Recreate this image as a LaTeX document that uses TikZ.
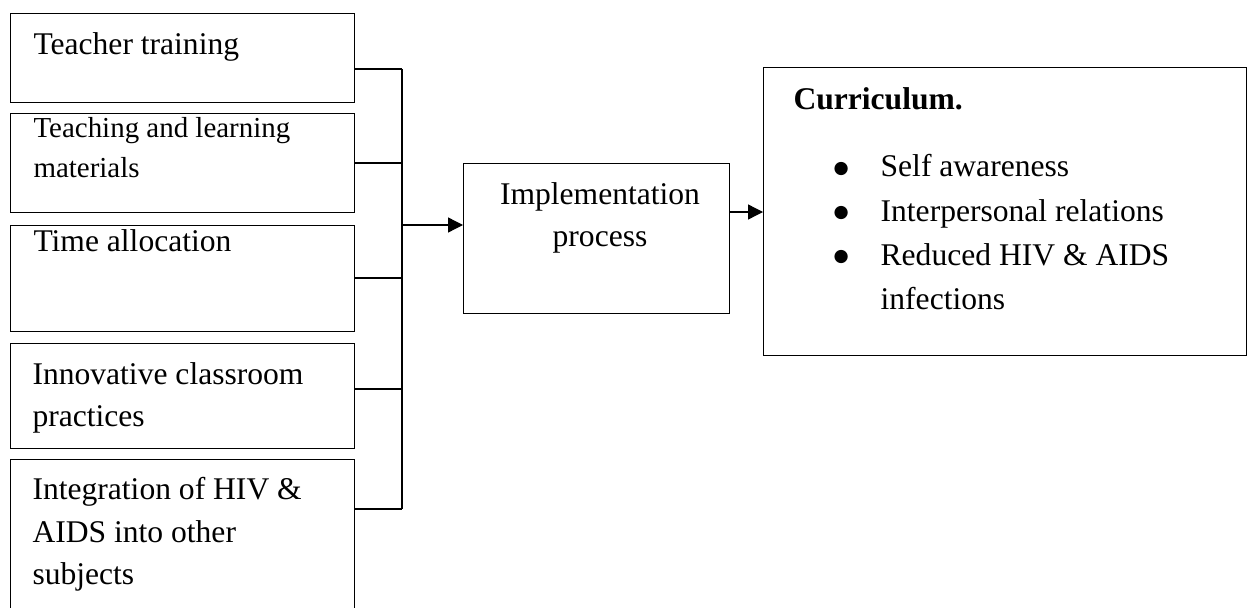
\documentclass[tikz,border=0pt]{standalone}
\usepackage{fontspec}
\setmainfont{Liberation Serif}
\newfontfamily\dotfont{DejaVu Sans}
\usetikzlibrary{arrows.meta}

\newcommand{\listdot}{\raisebox{1.5pt}{\dotfont\fontsize{6.6}{6.6}\selectfont ●}}

\tikzset{
  box/.style={draw, line width=0.5pt, inner sep=0pt, anchor=north west},
  txt/.style={inner sep=0pt, anchor=north west, align=left, font=\fontsize{12}{16.1}\selectfont},
  link/.style={line width=0.5pt},
  flow/.style={line width=0.5pt, -{Triangle[length=5.7pt,width=5.7pt]}},
}

\begin{document}
\begin{tikzpicture}[x=0.38pt,y=-0.38pt]
\path[use as bounding box, clip] (0,0) rectangle (1249,607);

% factors
\node[box, minimum width=130.7pt, minimum height=33.8pt] (train) at (10,13) {};
\node[txt] (train text) at (33,32) {Teacher training};

\node[box, minimum width=130.7pt, minimum height=37.6pt] (mater) at (10,113) {};
\node[txt, font=\fontsize{11}{15.1}\selectfont] (mater text) at (33,117) {Teaching and learning\\materials};

\node[box, minimum width=130.7pt, minimum height=40.3pt] (time) at (10,225) {};
\node[txt] (time text) at (33,229) {Time allocation};

\node[box, minimum width=130.7pt, minimum height=39.9pt] (innov) at (10,343) {};
\node[txt] (innov text) at (32,362) {Innovative classroom\\practices};

\node[box, minimum width=130.7pt, minimum height=76pt] (integ) at (10,459) {};
\node[txt] (integ text) at (32,477) {Integration of HIV \&\\AIDS into other\\subjects};

% process and outcome
\node[box, minimum width=101.1pt, minimum height=57pt] (impl) at (463,163) {};
\node[txt, anchor=north, align=center] (impl text) at (600,182) {Implementation\\process};

\node[box, minimum width=183.5pt, minimum height=109.4pt] (curr) at (763,67) {};
\node[txt, font=\bfseries\fontsize{12}{16.1}\selectfont] (curr head) at (793,87) {Curriculum.};
\node[txt, anchor=base west, font=\fontsize{12}{16.8}\selectfont] (curr list) at (833,177) {%
  \begin{tabular}[t]{@{}p{17.9pt}@{}l@{}}
  \listdot & Self awareness\\
  \listdot & Interpersonal relations\\
  \listdot & Reduced HIV \& AIDS\\
           & infections
  \end{tabular}};

% bus
\coordinate (bus train) at (402,69);
\coordinate (bus mater) at (402,163);
\coordinate (bus time) at (402,278);
\coordinate (bus innov) at (402,389);
\coordinate (bus integ) at (402,509);
\coordinate (bus out) at (402,225);

\draw[link] (train.east |- bus train) -- (bus train);
\draw[link] (mater.east |- bus mater) -- (bus mater);
\draw[link] (time.east |- bus time) -- (bus time);
\draw[link] (innov.east |- bus innov) -- (bus innov);
\draw[link] (integ.east |- bus integ) -- (bus integ);
\draw[link] (bus train) -- (bus integ);

\draw[flow] (bus out) -- (bus out -| impl.west);
\coordinate (impl out) at (impl.east |- 0,212);
\draw[flow] (impl out) -- (impl out -| curr.west);
\end{tikzpicture}
\end{document}
